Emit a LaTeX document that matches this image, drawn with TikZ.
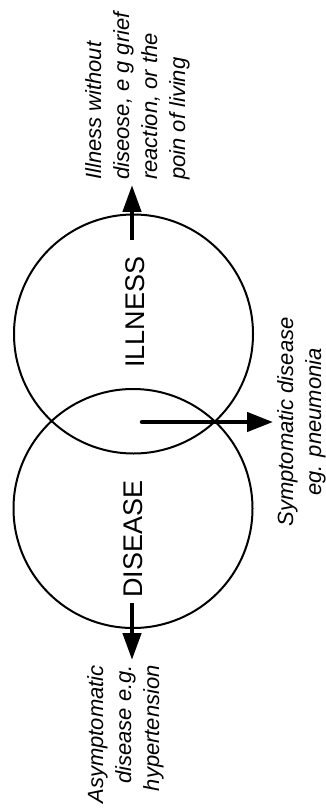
\documentclass[tikz,border=0pt]{standalone}
\usepackage{fontspec}
\setmainfont{Liberation Sans}
\usetikzlibrary{arrows.meta}
\begin{document}
\begin{tikzpicture}[x=1pt,y=-1pt,
  ring/.style={draw,line width=2pt,circle,minimum size=239pt,inner sep=0pt},
  bigtxt/.style={font=\fontsize{27}{30}\selectfont,inner sep=0pt,rotate=90},
  note/.style={font=\fontsize{22}{28}\selectfont\itshape,inner sep=0pt,rotate=90},
  arr/.style={line width=4.5pt,-{Triangle[length=27pt,width=18pt]}},
  arrdot/.style={line width=4.5pt,line cap=round,-{Triangle[length=26pt,width=19pt]}}]
\useasboundingbox (0,0) rectangle (325,810);
\node[ring] (ill) at (133.5,334) {};
\node[ring] (dis) at (133,508.5) {};
\node[bigtxt] (illtxt) at (135.5,312) {ILLNESS};
\node[bigtxt] (distxt) at (133,539) {DISEASE};
\node[note,align=left,anchor=north west] (topnote) at (85,180)
  {Illness without\\diseose, e g grief\\reaction, or the\\poin of living};
\node[note,align=center,anchor=north] (midnote) at (277,422)
  {Symptomatic disease\\eg. pneumonia};
\node[note,align=right,anchor=north east] (botnote) at (87,665)
  {Asymptomatic\\disease e.g.\\hypertension};
\coordinate (ts) at (132,240);
\coordinate (te) at (132,185);
\coordinate (ms) at (142,422);
\coordinate (me) at (273,422);
\coordinate (bs) at (132,603);
\coordinate (be) at (132,660);
\draw[arr] (ts) -- (te);
\draw[arrdot] (ms) -- (me);
\draw[arr] (bs) -- (be);
\end{tikzpicture}
\end{document}
